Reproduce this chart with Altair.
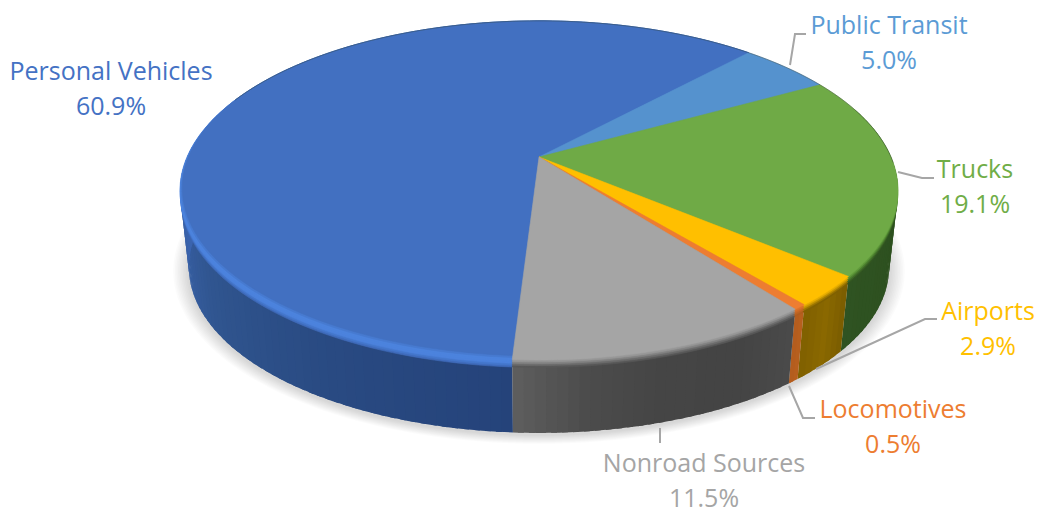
import math
import altair as alt
import pandas as pd

# Shares of emissions by source, clockwise from the bottom of the pie
sources = ["Personal Vehicles", "Public Transit", "Trucks", "Airports", "Locomotives", "Nonroad Sources"]
shares = [60.9, 5.0, 19.1, 2.9, 0.5, 11.5]

face_colors = ["#4270C1", "#5592CE", "#6FAA46", "#FFBF00", "#ED7D31", "#A5A5A5"]
text_colors = ["#4472C4", "#5B9BD5", "#70AD47", "#FFC000", "#ED7D31", "#A5A5A5"]

# Colour bands under the top face, from the deepest up to the lip of the rim
rim_colors = [
    ["#3F6BBB", "#4477CC", "#4C82DC", "#4C83DD"],
    ["#355E88", "#3F6F9E", "#4C83BA", "#5592CE"],
    ["#345822", "#3F6B28", "#4E8230", "#5F9A3A"],
    ["#806100", "#9C7600", "#C49400", "#E8AE00"],
    ["#B05C1E", "#BC6322", "#CC6A26", "#DD7229"],
    ["#585858", "#6C6C6C", "#838383", "#979797"],
]

# Side wall colours, in the direction of increasing angle along each wall
wall_stops = [
    ["#25437A", "#294A82", "#30558F", "#3A63AC", "#3F6BBB"],
    ["#355E88", "#355E88"],
    ["#2F5320", "#2C4F1E", "#2F5322"],
    ["#7A5C00", "#8A6800", "#7F6000"],
    ["#B8601F", "#B35C1D"],
    ["#4A4A4A", "#444444", "#454545", "#4B4B4B", "#5E5E5E"],
]

label_x = [111, 889, 975, 988, 893, 704]
label_y = [72, 26, 170, 312, 410, 464]
line_gap = 35

# Leader lines from each outside label back to its slice
leaders = [
    [(790, 65), (795, 34), (806, 34)],
    [(898, 172), (922, 178), (934, 178)],
    [(816, 369), (925, 319), (937, 319)],
    [(789, 386), (803, 418), (815, 418)],
    [(660, 428), (660, 443)],
]

# Perspective of the disc
CX, CY = 539, 157
R, RK = 352, 163
PERSP = 0.197
DEPTH = 78
TAPER = 0.025
START = 183.5
RIM_LEVELS = [8, 6, 4, 2]
WALL_STEP = 1.5

x_scale = alt.Scale(domain=[0, 1040], nice=False, zero=False)
y_scale = alt.Scale(domain=[510, 0], nice=False, zero=False)


def project(theta, r=1.0, z=0.0):
    t = math.radians(theta)
    u, v = r * math.sin(t), -r * math.cos(t)
    s = 1 / (1 - PERSP * v)
    f = 1 - TAPER * z / DEPTH
    return CX + f * R * u * s, CY + z + f * RK * v * s


def arc(a, b, z=0.0, inset=0.0, step=1.5):
    n = max(2, int(abs(b - a) / step) + 1)
    pts = []
    for i in range(n + 1):
        th = a + (b - a) * i / n
        v = -math.cos(math.radians(th))
        r = 1 - inset * max(0.0, (v + 0.35) / 1.35)
        pts.append(project(th, r, z))
    return pts


def polygon(points, fill, stroke=None, opacity=None):
    points = list(points) + [points[0]]
    df = pd.DataFrame({"x": [p[0] for p in points], "y": [p[1] for p in points], "o": range(len(points))})
    kw = {"fill": fill, "interpolate": "linear"}
    if stroke:
        kw.update(stroke=stroke, strokeWidth=0.6)
    else:
        kw.update(strokeWidth=0)
    if opacity is not None:
        kw.update(fillOpacity=opacity)
    return alt.Chart(df).mark_line(**kw).encode(
        x=alt.X("x:Q", scale=x_scale, axis=None),
        y=alt.Y("y:Q", scale=y_scale, axis=None),
        order=alt.Order("o:Q"),
    )


def mix(stops, t):
    pos = t * (len(stops) - 1)
    i = min(int(pos), len(stops) - 2)
    f = pos - i
    c0 = [int(stops[i][k:k + 2], 16) for k in (1, 3, 5)]
    c1 = [int(stops[i + 1][k:k + 2], 16) for k in (1, 3, 5)]
    return "#" + "".join(f"{round(p + (q - p) * f):02X}" for p, q in zip(c0, c1))


total = sum(shares)
spans = []
angle = START
for value in shares:
    sweep = value / total * 360
    spans.append((angle, angle + sweep))
    angle += sweep
    if len(spans) == 1:
        angle -= 360

layers = []

# Soft shadow cast under the disc
for k in range(10):
    grow = 1.045 - k * 0.0045
    pts = []
    for i in range(181):
        th = i * 2
        px, py = project(th, 1.0, DEPTH)
        pts.append((CX + (px - CX) * grow, CY + DEPTH + 2 + (py - CY - DEPTH) * grow))
    layers.append(polygon(pts, "#000000", opacity=0.015))

# Side walls, limited to the part of each slice facing the viewer and
# built from narrow overlapping strips so the shading changes along the wall
for (a, b), stops in zip(spans, wall_stops):
    lo, hi = max(a, 72), min(b, 288)
    if hi <= lo:
        continue
    n = max(1, math.ceil((hi - lo) / WALL_STEP))
    for i in range(n):
        s0 = lo + (hi - lo) * i / n
        s1 = lo + (hi - lo) * (i + 1) / n
        if i < n - 1:
            s1 += 0.8
        color = mix(stops, (i + 0.5) / n)
        layers.append(polygon(arc(s0, s1, 0) + arc(s1, s0, DEPTH), color))

# Rounded lip: the slices repeated at small drops, deepest first
for level, z in enumerate(RIM_LEVELS):
    for (a, b), rims in zip(spans, rim_colors):
        pts = [(CX, CY + z)] + arc(a, b, z)
        layers.append(polygon(pts, rims[level], stroke=rims[level]))

# Bright lip around the front left of the blue slice, easing into the face
a, b = spans[0]
layers.append(polygon([(CX, CY)] + arc(a, b, 0), "#4C83DD", stroke="#4C83DD"))
layers.append(polygon([(CX, CY)] + arc(a, b, 0, inset=0.008), "#477AD0", stroke="#477AD0"))

# Top faces
for (a, b), color in zip(spans, face_colors):
    pts = [(CX, CY)] + arc(a, b, 0, inset=0.016 if a > 180 else 0.0)
    layers.append(polygon(pts, color, stroke=color))

# Thin dark edge along the far side of the disc
edge = arc(292, 452, 0)
edge_df = pd.DataFrame({"x": [p[0] for p in edge], "y": [p[1] for p in edge], "o": range(len(edge))})
layers.append(
    alt.Chart(edge_df).mark_line(stroke="#2F3B30", strokeWidth=1, opacity=0.4).encode(
        x=alt.X("x:Q", scale=x_scale, axis=None),
        y=alt.Y("y:Q", scale=y_scale, axis=None),
        order=alt.Order("o:Q"),
    )
)

# Leader lines
for leader in leaders:
    df = pd.DataFrame({"x": [p[0] for p in leader], "y": [p[1] for p in leader], "o": range(len(leader))})
    layers.append(
        alt.Chart(df).mark_line(stroke="#A6A6A6", strokeWidth=2).encode(
            x=alt.X("x:Q", scale=x_scale, axis=None),
            y=alt.Y("y:Q", scale=y_scale, axis=None),
            order=alt.Order("o:Q"),
        )
    )

# Two-line labels: source name, then its share
rows = []
for name, value, lx, ly, tc in zip(sources, shares, label_x, label_y, text_colors):
    rows.append({"t": name, "x": lx, "y": ly, "c": tc})
    rows.append({"t": f"{value:.1f}%", "x": lx, "y": ly + line_gap, "c": tc})
layers.append(
    alt.Chart(pd.DataFrame(rows)).mark_text(font="Open Sans", fontSize=25, align="center", baseline="middle").encode(
        x=alt.X("x:Q", scale=x_scale, axis=None),
        y=alt.Y("y:Q", scale=y_scale, axis=None),
        text="t:N",
        color=alt.Color("c:N", scale=None),
    )
)

chart = (
    alt.layer(*layers)
    .properties(width=1040, height=510, padding=0, autosize="none", background="#FFFFFF")
    .configure_view(strokeWidth=0)
)
chart.save("out.html", embed_options={"renderer": "svg", "actions": False})
